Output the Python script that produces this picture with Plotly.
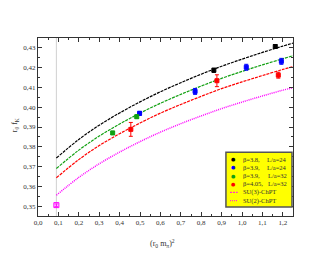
import plotly.graph_objects as go

# ---------------- data ----------------
# lattice points: (r0 m_pi)^2, r0 f_K, error
x_b38_24 = [0.862, 1.163]
y_b38_24 = [0.4187, 0.4307]
e_b38_24 = [0.0010, 0.0010]

x_b39_24 = [0.498, 0.770, 1.021, 1.193]
y_b39_24 = [0.3969, 0.4080, 0.4202, 0.4232]
e_b39_24 = [0.0010, 0.0015, 0.0015, 0.0015]

x_b39_32 = [0.366, 0.484]
y_b39_32 = [0.3870, 0.3952]
e_b39_32 = [0.0008, 0.0008]

x_b405_32 = [0.455, 0.877, 1.178]
y_b405_32 = [0.3888, 0.4134, 0.4162]
e_b405_32 = [0.0035, 0.0030, 0.0015]

# physical point
x_phys = [0.09]
y_phys = [0.3505]
e_phys = [0.0006]

# fit curves
x_fit = [0.09, 0.2, 0.3, 0.4, 0.5, 0.6, 0.7, 0.8, 0.9, 1.0, 1.1, 1.2, 1.25]
y_fit_b38 = [0.3743, 0.3837, 0.3909, 0.3971, 0.4027, 0.4078, 0.4124, 0.4167, 0.4207, 0.4243, 0.4277, 0.4309, 0.4324]
y_fit_b39 = [0.3690, 0.3783, 0.3854, 0.3915, 0.3970, 0.4020, 0.4065, 0.4107, 0.4146, 0.4181, 0.4214, 0.4245, 0.4260]
y_fit_b405 = [0.3643, 0.3735, 0.3806, 0.3866, 0.3920, 0.3970, 0.4014, 0.4055, 0.4094, 0.4128, 0.4160, 0.4191, 0.4205]
y_fit_cont = [0.3555, 0.3645, 0.3714, 0.3773, 0.3826, 0.3874, 0.3917, 0.3956, 0.3993, 0.4026, 0.4057, 0.4086, 0.4099]

x_ticks = [0.0, 0.1, 0.2, 0.3, 0.4, 0.5, 0.6, 0.7, 0.8, 0.9, 1.0, 1.1, 1.2]
y_ticks = [0.35, 0.36, 0.37, 0.38, 0.39, 0.40, 0.41, 0.42, 0.43]

legend_beta = ["β=3.8,", "β=3.9,", "β=3.9,", "β=4.05,"]
legend_L = ["L/a=24", "L/a=24", "L/a=32", "L/a=32"]
legend_lines = ["SU(3)-ChPT", "SU(2)-ChPT"]

BLACK = "#000000"
BLUE = "#0000ff"
GREEN = "#11a011"
RED = "#ff0000"
MAG = "#ff00ff"
FONT = "Liberation Serif"

fig = go.Figure()

# vertical line at physical point
fig.add_shape(type="line", xref="x", yref="paper", x0=x_phys[0], x1=x_phys[0], y0=0, y1=1,
              line=dict(color="#d0d0d0", width=1), layer="below")

def curve(y, color, dash, width=1.2):
    fig.add_trace(go.Scatter(x=x_fit, y=y, mode="lines", line_shape="spline",
                             line=dict(color=color, dash=dash, width=width),
                             showlegend=False, hoverinfo="skip"))

curve(y_fit_b38, BLACK, "3px,1px")
curve(y_fit_b39, GREEN, "3px,1px")
curve(y_fit_b405, RED, "3px,1px")
curve(y_fit_cont, MAG, "1px,1px", 1.5)

def pts(x, y, e, color, symbol="square", size=4):
    fig.add_trace(go.Scatter(x=x, y=y, mode="markers",
                             marker=dict(symbol=symbol, size=size, color=color,
                                         line=dict(color=color, width=1)),
                             error_y=dict(type="data", array=e, color=color, thickness=1, width=2),
                             showlegend=False))

pts(x_b38_24, y_b38_24, e_b38_24, BLACK)
pts(x_b39_24, y_b39_24, e_b39_24, BLUE)
pts(x_b39_32, y_b39_32, e_b39_32, GREEN)
pts(x_b405_32, y_b405_32, e_b405_32, RED)
pts(x_phys, y_phys, e_phys, MAG, symbol="square-open", size=5)

axis_common = dict(showline=True, linecolor="#333333", linewidth=1, mirror="ticks",
                   ticks="inside", ticklen=4, tickcolor="#333333", tickwidth=1,
                   showgrid=False, zeroline=False,
                   tickfont=dict(family=FONT, size=7, color="#333333"))

fig.update_xaxes(range=[0.0, 1.25], tickvals=x_ticks, tickformat=".1f",
                 minor=dict(ticks="inside", ticklen=2, dtick=0.05, tickcolor="#333333"),
                 **axis_common)
fig.update_yaxes(range=[0.345, 0.435], tickvals=y_ticks, tickformat=".2f",
                 minor=dict(ticks="inside", ticklen=2, dtick=0.005, tick0=0.345, tickcolor="#333333"),
                 **axis_common)

# axis titles
ann = []
ann.append(dict(text="(r<sub>0</sub> m<sub>π</sub>)<sup>2</sup>", xref="paper", yref="paper",
                x=0.49, y=-0.115, xanchor="center", yanchor="top", showarrow=False,
                font=dict(family=FONT, size=8, color="#333333")))
ann.append(dict(text="r<sub>0</sub> f<sub>K</sub>", xref="paper", yref="paper",
                x=-0.09, y=0.51, xanchor="center", yanchor="middle", textangle=-90, showarrow=False,
                font=dict(family=FONT, size=8, color="#333333")))

# manual legend
L_x0, L_x1, L_y0, L_y1 = 0.737, 0.996, 0.050, 0.358
fig.add_shape(type="rect", xref="paper", yref="paper", x0=L_x0, x1=L_x1, y0=L_y0, y1=L_y1,
              fillcolor="#ffff00", line=dict(color="#555555", width=1.5))
row_y = [0.320, 0.273, 0.226, 0.180, 0.133, 0.086]
mk_colors = [BLACK, BLUE, GREEN, RED]
for i in range(4):
    ann.append(dict(text="●", xref="paper", yref="paper", x=0.768, y=row_y[i],
                    xanchor="center", yanchor="middle", showarrow=False,
                    font=dict(family="DejaVu Sans", size=5, color=mk_colors[i])))
    ann.append(dict(text=legend_beta[i], xref="paper", yref="paper", x=0.796, y=row_y[i],
                    xanchor="left", yanchor="middle", showarrow=False,
                    font=dict(family=FONT, size=6.5, color="#333333")))
    ann.append(dict(text=legend_L[i], xref="paper", yref="paper", x=0.985, y=row_y[i],
                    xanchor="right", yanchor="middle", showarrow=False,
                    font=dict(family=FONT, size=6.5, color="#333333")))
line_dash = ["2px,1px", "1px,1px"]
for j in range(2):
    yy = row_y[4 + j]
    fig.add_shape(type="line", xref="paper", yref="paper", x0=0.753, x1=0.783, y0=yy, y1=yy,
                  line=dict(color=MAG, width=1, dash=line_dash[j]))
    ann.append(dict(text=legend_lines[j], xref="paper", yref="paper", x=0.796, y=yy,
                    xanchor="left", yanchor="middle", showarrow=False,
                    font=dict(family=FONT, size=6.5, color="#333333")))

fig.update_layout(width=330, height=255, margin=dict(l=38, r=37, t=38, b=39),
                  paper_bgcolor="white", plot_bgcolor="white", separators=",.",
                  annotations=ann, showlegend=False,
                  font=dict(family=FONT, size=7, color="#333333"))

fig.write_html("out.html", config={"displayModeBar": False},
               post_script="document.body.style.margin='0px';")
